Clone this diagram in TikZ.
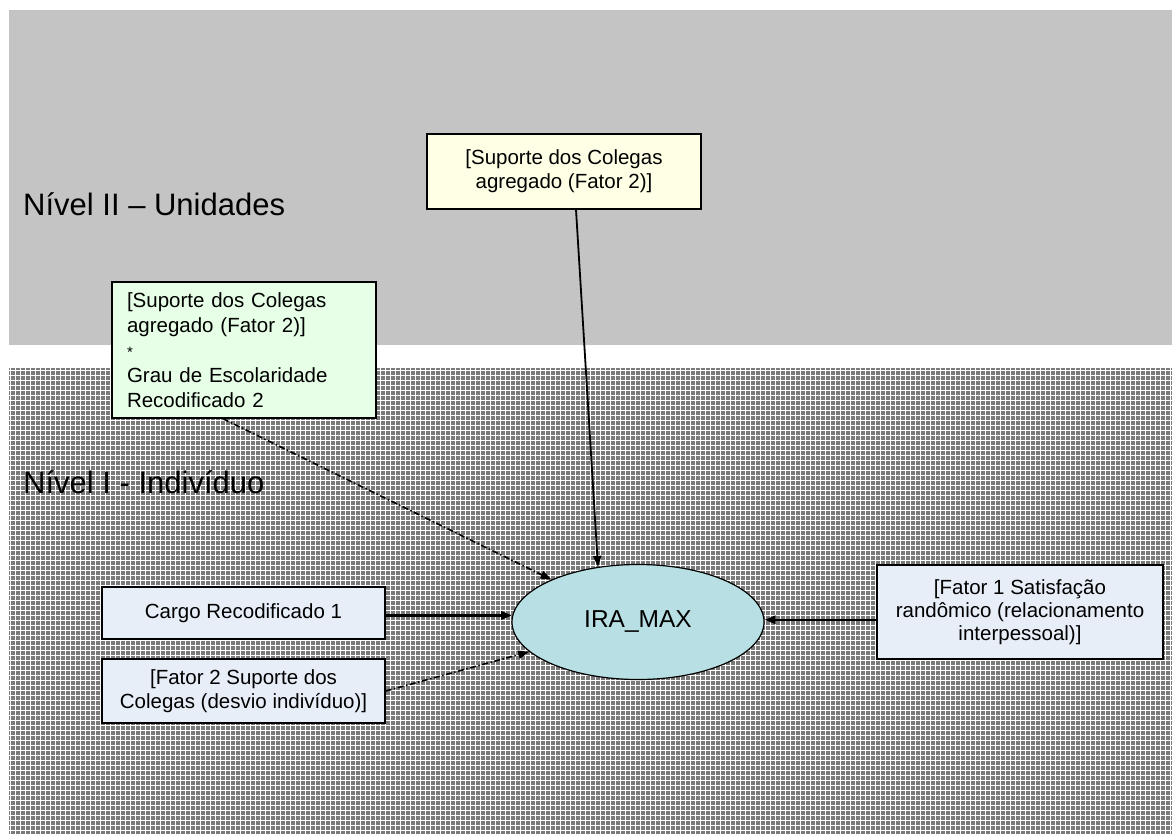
\documentclass[tikz,border=0pt]{standalone}
\usepackage{fontspec}
\setmainfont{Liberation Sans}
\usetikzlibrary{shapes.geometric,arrows.meta}
\definecolor{topgray}{HTML}{C4C4C4}
\definecolor{lowgray}{HTML}{7A7A7A}
\definecolor{yellowbox}{HTML}{FFFFE6}
\definecolor{greenbox}{HTML}{E6FFE6}
\definecolor{bluebox}{HTML}{E8EEF8}
\definecolor{ellfill}{HTML}{B8E0E4}
\begin{document}
\begin{tikzpicture}[x=1pt,y=-1pt,
  box/.style={draw=black, line width=1.4pt, rectangle, inner sep=0pt, align=center},
  levellabel/.style={anchor=base west, font=\fontsize{31}{36}\selectfont, inner sep=0pt},
  boxtext/.style={font=\fontsize{20.5}{24}\selectfont},
  arr/.style={-{Triangle[length=11pt,width=8pt]}, line width=1.8pt},
  dasharr/.style={arr, line width=1.6pt, dash pattern=on 6pt off 2.5pt on 1.5pt off 2.5pt}]
\useasboundingbox (0,0) rectangle (1172,834);
% background regions
\fill[topgray] (9,10) rectangle (1172,345);
\fill[lowgray] (9,368) rectangle (1172,834);
\begin{scope}
  \clip (9,368) rectangle (1172,834);
  \draw[white, line width=1pt] (8,367) grid[step=5pt] (1173,835);
\end{scope}
% level labels
\node[levellabel] (lvltwo) at (23,216) {Nível II – Unidades};
\node[levellabel] (lvlone) at (23,493) {Nível I - Indivíduo};
% boxes
\node[box, fill=yellowbox, boxtext, minimum width=274pt, minimum height=75pt] (topbox) at (564,171.5)
  {[Suporte dos Colegas\\agregado (Fator 2)]};
\node[box, fill=greenbox, font=\fontsize{20.5}{25}\selectfont, align=left, text width=234pt, inner xsep=15pt, minimum height=136pt] (green) at (244,350)
  {[Suporte dos Colegas\\agregado (Fator 2)]\\{\fontsize{15}{25}\selectfont *}\\Grau de Escolaridade\\Recodificado 2};
\node[box, fill=bluebox, boxtext, minimum width=283pt, minimum height=52pt] (cargo) at (243.5,613)
  {Cargo Recodificado 1};
\node[box, fill=bluebox, boxtext, minimum width=283pt, minimum height=64pt] (fatortwo) at (243.5,691)
  {[Fator 2 Suporte dos\\Colegas (desvio indivíduo)]};
\node[box, fill=bluebox, font=\fontsize{20.5}{23}\selectfont, minimum width=286pt, minimum height=94pt] (fatorone) at (1020,612)
  {[Fator 1 Satisfação\\randômico (relacionamento\\interpessoal)]};
\node[ellipse, draw=black, line width=1.2pt, fill=ellfill, minimum width=252pt, minimum height=115pt, inner sep=0pt, font=\fontsize{24.5}{28}\selectfont] (ira) at (638,622) {IRA\_MAX};
% connectors
\draw[arr] ([xshift=12pt]topbox.south) -- (ira.126);
\draw[dasharr] ([xshift=-21pt]green.south) -- (ira);
\draw[arr, line width=2.5pt] (cargo.east |- ira.177) -- (ira.177);
\draw[dasharr] (fatortwo.east) -- (ira);
\draw[arr, line width=2.5pt] (fatorone.west |- ira.1) -- (ira.1);
\end{tikzpicture}
\end{document}
